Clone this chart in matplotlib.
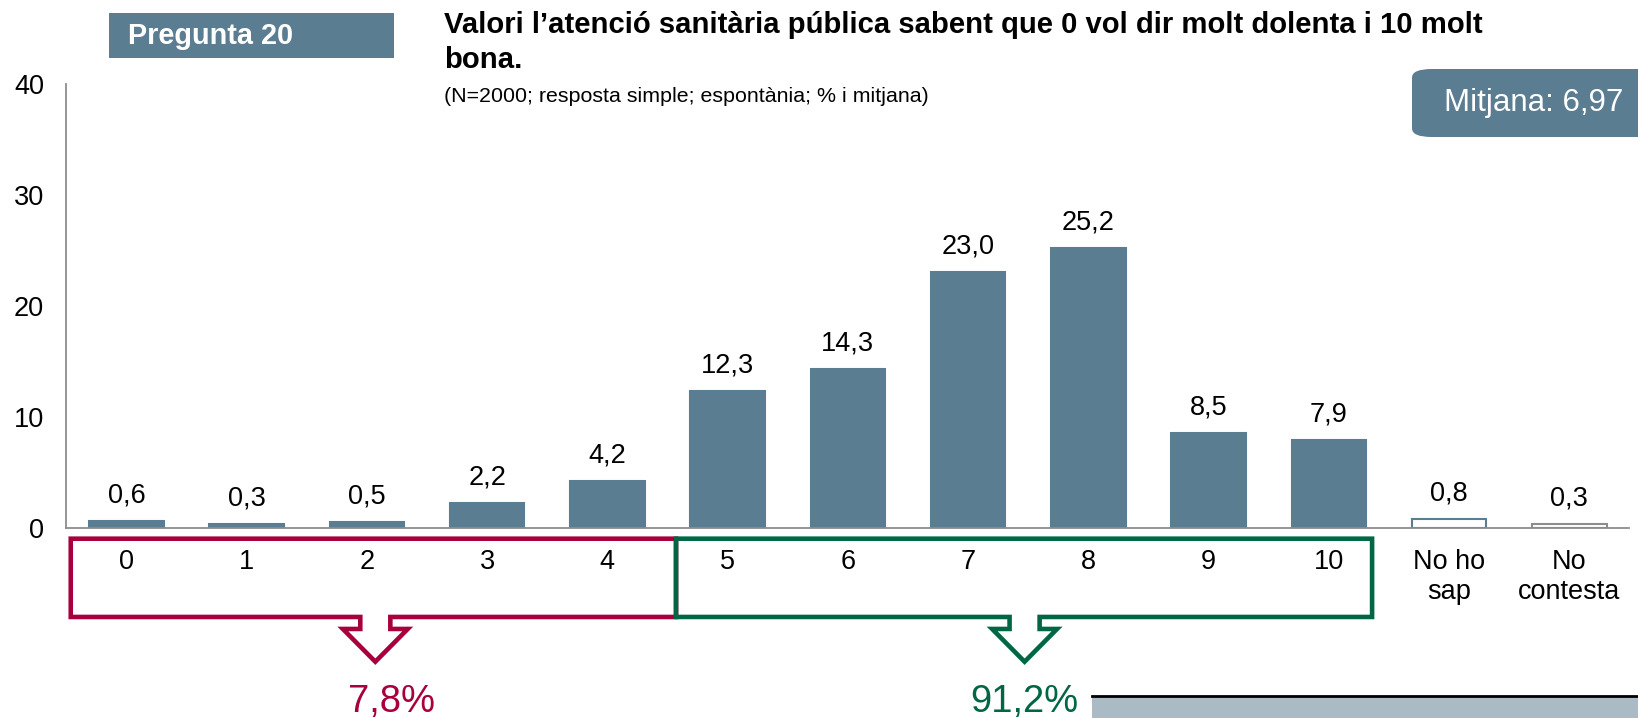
import matplotlib
matplotlib.use("Agg")
import matplotlib.pyplot as plt
from matplotlib.patches import Polygon, Rectangle, FancyBboxPatch

plt.rcParams["font.family"] = ["Liberation Sans", "DejaVu Sans"]

# --- data ---------------------------------------------------------------
categories = ["0", "1", "2", "3", "4", "5", "6", "7", "8", "9", "10",
              "No ho\nsap", "No\ncontesta"]
values = [0.6, 0.3, 0.5, 2.2, 4.2, 12.3, 14.3, 23.0, 25.2, 8.5, 7.9, 0.8, 0.3]
mean_score = 6.97
low_share = 7.8     # 0-4
high_share = 91.2   # 5-10

title_1 = "Valori l\u2019atenció sanitària pública sabent que 0 vol dir molt dolenta i 10 molt"
title_2 = "bona."
subtitle = "(N=2000; resposta simple; espontània; % i mitjana)"

BLUE = "#5B7D91"
RED = "#A8003C"
GREEN = "#006644"

W, H = 1638, 718


def fx(px):
    return px / W


def fy(py):
    return 1 - py / H


def fmt(v):
    return f"{v:.1f}".replace(".", ",")


fig = plt.figure(figsize=(W / 100, H / 100), dpi=100)
ax = fig.add_axes([fx(66.3), fy(527.7), (1629.4 - 66.3) / W, (527.7 - 83.6) / H])

x = list(range(len(categories)))
face = [BLUE] * 11 + ["white", "white"]
edge = [BLUE] * 11 + [BLUE, "#8C8C8C"]
bars = ax.bar(x, values, width=0.62, color=face, edgecolor=edge, linewidth=1.5)

for xi, v in zip(x, values):
    ax.annotate(fmt(v), (xi, v), xytext=(0, 9), textcoords="offset points",
                ha="center", va="bottom", fontsize=19.5)

ax.set_xlim(-0.5, 12.5)
ax.set_ylim(0, 40)
ax.set_yticks([0, 10, 20, 30, 40])
ax.set_xticks(x, categories)
ax.tick_params(axis="y", length=0, pad=16, labelsize=19.5)
ax.tick_params(axis="x", length=0, pad=15, labelsize=19.5)
for lbl in ax.get_xticklabels():
    lbl.set_linespacing(1.2)
for s in ("top", "right"):
    ax.spines[s].set_visible(False)
for s in ("left", "bottom"):
    ax.spines[s].set_color("#8C8C8C")
    ax.spines[s].set_linewidth(1.3)


# --- grouping brackets with arrows under the axis -----------------------
def bracket(x0, x1, xa, color):
    yt, yb, yh, ytip = -0.99, -8.04, -9.12, -12.07
    nw, hw = 0.125, 0.27
    pts = [(x0, yt), (x1, yt), (x1, yb), (xa + nw, yb), (xa + nw, yh),
           (xa + hw, yh), (xa, ytip), (xa - hw, yh), (xa - nw, yh),
           (xa - nw, yb), (x0, yb)]
    ax.add_patch(Polygon(pts, closed=True, fill=False, edgecolor=color,
                         linewidth=3.3, joinstyle="miter", clip_on=False))


bracket(-0.463, 4.571, 2.07, RED)
bracket(4.571, 10.36, 7.47, GREEN)

fig.text(fx(391), fy(712), f"{low_share:.1f}%".replace(".", ","), color=RED,
         fontsize=27.5, ha="center", va="baseline")
fig.text(fx(1024), fy(712), f"{high_share:.1f}%".replace(".", ","), color=GREEN,
         fontsize=27.5, ha="center", va="baseline")

# strip at bottom right
fig.patches.append(Rectangle((fx(1092), 0), 1 - fx(1092), fy(696), transform=fig.transFigure,
                             facecolor="#AABBC6", edgecolor="none"))
fig.lines.append(plt.Line2D([fx(1092), 1], [fy(696), fy(696)], transform=fig.transFigure,
                            color="black", linewidth=2))

# --- header -------------------------------------------------------------
fig.patches.append(Rectangle((fx(109), fy(58)), fx(394) - fx(109), fy(13) - fy(58),
                             transform=fig.transFigure, facecolor=BLUE, edgecolor="none"))
fig.text(fx(128), fy(35.5), "Pregunta 20", color="white", fontsize=20.8,
         fontweight="bold", ha="left", va="center")

fig.text(fx(444), fy(33), title_1, fontsize=21.1, fontweight="bold", ha="left", va="baseline")
fig.text(fx(444), fy(68), title_2, fontsize=21.1, fontweight="bold", ha="left", va="baseline")
fig.text(fx(444), fy(97), subtitle, fontsize=15.4, ha="left", va="center")

fig.patches.append(FancyBboxPatch((fx(1412), fy(137)), fx(1660) - fx(1412), fy(69) - fy(137),
                                  boxstyle="round,pad=0,rounding_size=0.012",
                                  transform=fig.transFigure, facecolor=BLUE,
                                  edgecolor="none", clip_on=False))
fig.text(fx(1534), fy(103), f"Mitjana: {mean_score:.2f}".replace(".", ","), color="white",
         fontsize=22.5, ha="center", va="center")

fig.savefig("out.png", dpi=100)
